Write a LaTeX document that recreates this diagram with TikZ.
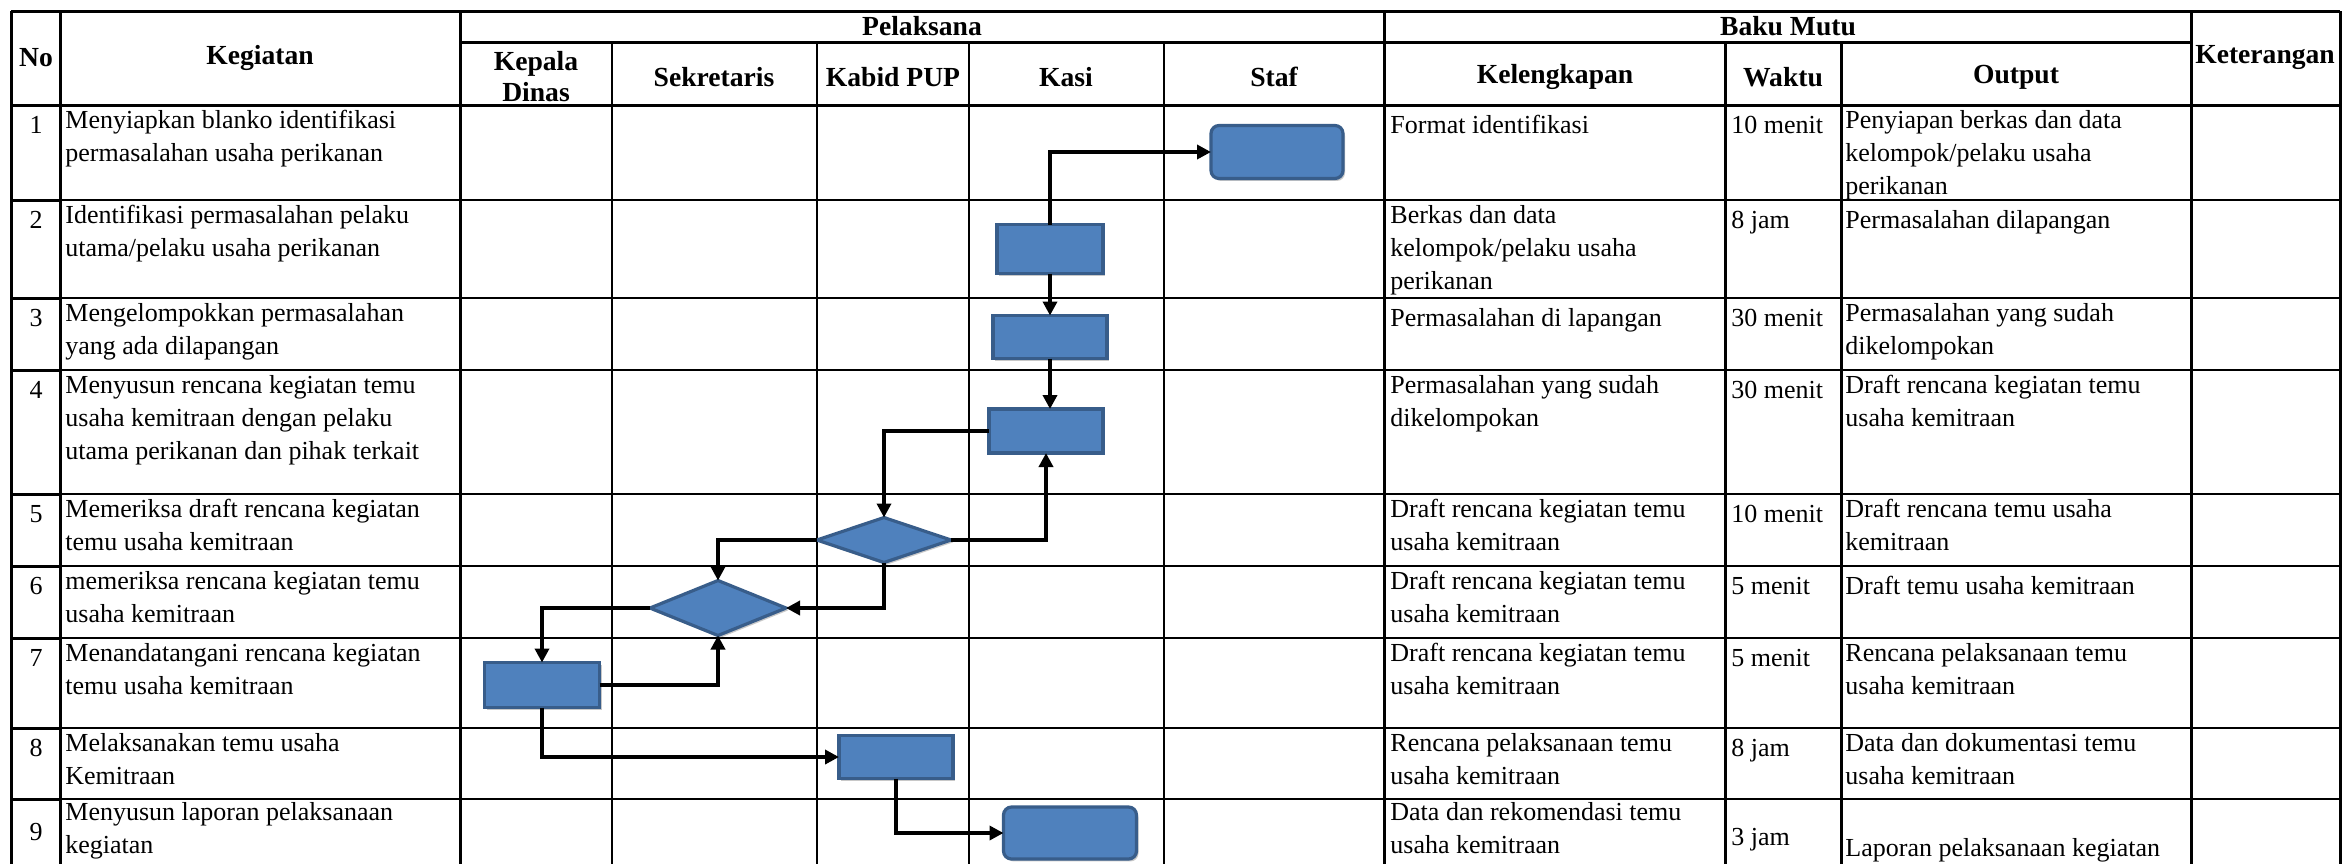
\documentclass[tikz,border=0pt]{standalone}
\usepackage{fontspec}
\setmainfont{Liberation Serif}
\usetikzlibrary{arrows.meta,shapes.geometric,shadows}
\definecolor{boxfill}{HTML}{4F81BD}
\definecolor{boxline}{HTML}{385D8A}
\newcommand{\cellfont}{\fontsize{13}{16.5}\selectfont}
\newcommand{\headfont}{\fontsize{13.8}{15.5}\selectfont\bfseries}

\begin{document}
\begin{tikzpicture}[x=0.5pt,y=-0.5pt,
  thickrule/.style={line width=1.5pt},
  midrule/.style={line width=1.1pt},
  thinrule/.style={line width=0.75pt},
  cell/.style={anchor=north west, align=left, inner sep=0pt, font=\cellfont, execute at begin node=\strut},
  num/.style={anchor=north, inner sep=0pt, font=\cellfont, execute at begin node=\strut},
  head/.style={align=center, inner sep=0pt, font=\headfont},
  flowbox/.style={draw=boxline, fill=boxfill, line width=1.6pt, inner sep=0pt, outer sep=0pt,
    drop shadow={shadow xshift=1pt, shadow yshift=-1.2pt, opacity=0.3, fill=black!70}},
  procbox/.style={flowbox, rectangle},
  termbox/.style={flowbox, rectangle, rounded corners=4pt},
  decbox/.style={flowbox, diamond},
  flow/.style={line width=2.4pt, -{Triangle[length=7pt,width=7pt]}},
]
\useasboundingbox (0,0) rectangle (2343,864);
\fill[white] (0,0) rectangle (2343,864);

% ---------- table rules ----------
\draw[thickrule] (11,11) -- (2340,11);
\draw[thickrule] (460,42) -- (2191,42);
\draw[thickrule] (11,105) -- (2340,105);
\foreach \r in {200,298,370,494,566,638,728,799}{
  \draw[thinrule] (60,\r) -- (2340,\r);
  \draw[thickrule] (11,\r) -- (60,\r);
}
\foreach \c in {11,60,460,1384,2191,2340}{
  \draw[thickrule] (\c,11) -- (\c,864);
}
\foreach \c in {1725,1841}{
  \draw[thickrule] (\c,42) -- (\c,864);
}
\foreach \c in {612,817,969,1164}{
  \draw[midrule] (\c,42) -- (\c,864);
}

% ---------- header ----------
\node[head] (hNo)  at (36,58)   {No};
\node[head] (hKeg) at (260,58)  {Kegiatan};
\node[head] (hPel) at (922,26)  {Pelaksana};
\node[head] (hBak) at (1788,26) {Baku Mutu};
\node[head] (hKet) at (2265,58) {Keterangan};
\node[head] (hKD)  at (536,77)  {Kepala\\Dinas};
\node[head] (hSek) at (714,77)  {Sekretaris};
\node[head] (hKab) at (893,77)  {Kabid PUP};
\node[head] (hKas) at (1066,77) {Kasi};
\node[head] (hSta) at (1274,77) {Staf};
\node[head] (hKel) at (1555,77) {Kelengkapan};
\node[head] (hWak) at (1783,77) {Waktu};
\node[head] (hOut) at (2016,77) {Output};

% ---------- row 1 ----------
\node[num]  (n1) at (36,110) {1};
\node[cell] (a1) at (65,110) {Menyiapkan blanko identifikasi\\permasalahan usaha perikanan};
\node[cell] (c1) at (1390,110) {Format identifikasi};
\node[cell] (w1) at (1731,110) {10 menit};
\node[cell] (o1) at (1845,110) {Penyiapan berkas dan data\\kelompok/pelaku usaha\\perikanan};

% ---------- row 2 ----------
\node[num]  (n2) at (36,205) {2};
\node[cell] (a2) at (65,205) {Identifikasi permasalahan pelaku\\utama/pelaku usaha perikanan};
\node[cell] (c2) at (1390,205) {Berkas dan data\\kelompok/pelaku usaha\\perikanan};
\node[cell] (w2) at (1731,205) {8 jam};
\node[cell] (o2) at (1845,205) {Permasalahan dilapangan};

% ---------- row 3 ----------
\node[num]  (n3) at (36,303) {3};
\node[cell] (a3) at (65,303) {Mengelompokkan permasalahan\\yang ada dilapangan};
\node[cell] (c3) at (1390,303) {Permasalahan di lapangan};
\node[cell] (w3) at (1731,303) {30 menit};
\node[cell] (o3) at (1845,303) {Permasalahan yang sudah\\dikelompokan};

% ---------- row 4 ----------
\node[num]  (n4) at (36,375) {4};
\node[cell] (a4) at (65,375) {Menyusun rencana kegiatan temu\\usaha kemitraan dengan pelaku\\utama perikanan dan pihak terkait};
\node[cell] (c4) at (1390,375) {Permasalahan yang sudah\\dikelompokan};
\node[cell] (w4) at (1731,375) {30 menit};
\node[cell] (o4) at (1845,375) {Draft rencana kegiatan temu\\usaha kemitraan};

% ---------- row 5 ----------
\node[num]  (n5) at (36,499) {5};
\node[cell] (a5) at (65,499) {Memeriksa draft rencana kegiatan\\temu usaha kemitraan};
\node[cell] (c5) at (1390,499) {Draft rencana kegiatan temu\\usaha kemitraan};
\node[cell] (w5) at (1731,499) {10 menit};
\node[cell] (o5) at (1845,499) {Draft rencana temu usaha\\kemitraan};

% ---------- row 6 ----------
\node[num]  (n6) at (36,571) {6};
\node[cell] (a6) at (65,571) {memeriksa rencana kegiatan temu\\usaha kemitraan};
\node[cell] (c6) at (1390,571) {Draft rencana kegiatan temu\\usaha kemitraan};
\node[cell] (w6) at (1731,571) {5 menit};
\node[cell] (o6) at (1845,571) {Draft temu usaha kemitraan};

% ---------- row 7 ----------
\node[num]  (n7) at (36,643) {7};
\node[cell] (a7) at (65,643) {Menandatangani rencana kegiatan\\temu usaha kemitraan};
\node[cell] (c7) at (1390,643) {Draft rencana kegiatan temu\\usaha kemitraan};
\node[cell] (w7) at (1731,643) {5 menit};
\node[cell] (o7) at (1845,643) {Rencana pelaksanaan temu\\usaha kemitraan};

% ---------- row 8 ----------
\node[num]  (n8) at (36,733) {8};
\node[cell] (a8) at (65,733) {Melaksanakan temu usaha\\Kemitraan};
\node[cell] (c8) at (1390,733) {Rencana pelaksanaan temu\\usaha kemitraan};
\node[cell] (w8) at (1731,733) {8 jam};
\node[cell] (o8) at (1845,733) {Data dan dokumentasi temu\\usaha kemitraan};

% ---------- row 9 ----------
\node[anchor=base, inner sep=0pt, font=\cellfont] (n9) at (36,840) {9};
\node[cell] (a9) at (65,802) {Menyusun laporan pelaksanaan\\kegiatan};
\node[cell] (c9) at (1390,802) {Data dan rekomendasi temu\\usaha kemitraan};
\node[anchor=base west, inner sep=0pt, font=\cellfont] (w9) at (1731,845) {3 jam};
\node[anchor=base west, inner sep=0pt, font=\cellfont] (o9) at (1845,856) {Laporan pelaksanaan kegiatan};

% ---------- flow shapes ----------
\node[termbox, minimum width=66pt,  minimum height=26.5pt] (s1) at (1277,152) {};
\node[procbox, minimum width=53pt,  minimum height=24.5pt] (k2) at (1050,249) {};
\node[procbox, minimum width=57pt,  minimum height=21.5pt] (k3) at (1050,337) {};
\node[procbox, minimum width=57pt,  minimum height=22pt]   (k4) at (1046,431) {};
\node[decbox,  minimum width=67pt,  minimum height=22.5pt] (d5) at (884,540) {};
\node[decbox,  minimum width=68pt,  minimum height=27.5pt] (d6) at (718,608) {};
\node[procbox, minimum width=57.5pt,minimum height=22.5pt] (b7) at (542,685) {};
\node[procbox, minimum width=57pt,  minimum height=21.5pt] (b8) at (896,757) {};
\node[termbox, minimum width=66.5pt,minimum height=26pt]   (e9) at (1070,833) {};

% ---------- connectors ----------
\draw[flow] (k2.north) |- (s1.west);
\draw[flow] (k2.south) -- (k3.north);
\draw[flow] (k3.south) -- (k3.south |- k4.north);
\draw[flow] (k4.west) -| (d5.north);
\draw[flow] (d5.east) -| (k4.south);
\draw[flow] (d5.west) -| (d6.north);
\draw[flow] (d5.south) |- (d6.east);
\draw[flow] (d6.west) -| (b7.north);
\draw[flow] (b7.east) -| (d6.south);
\draw[flow] (b7.south) |- (b8.west);
\draw[flow] (b8.south) |- (e9.west);
\end{tikzpicture}
\end{document}
